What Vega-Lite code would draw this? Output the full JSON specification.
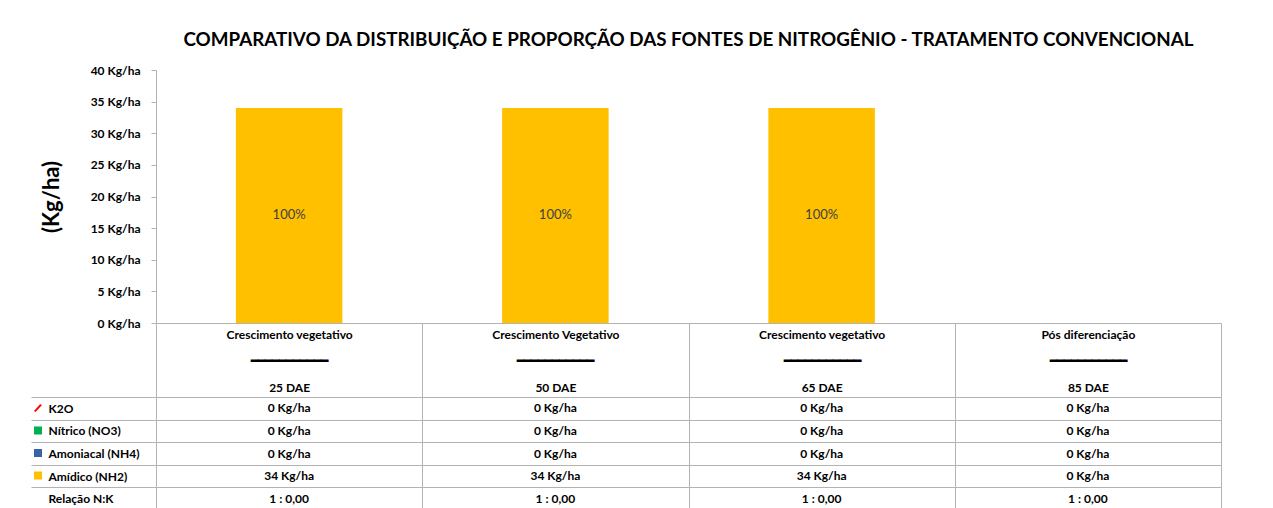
{
  "$schema": "https://vega.github.io/schema/vega-lite/v6.json",
  "padding": {"left": 30, "top": 31, "right": 10, "bottom": 0},
  "background": "white",
  "spacing": 74,
  "bounds": "flush",
  "config": {
    "view": {"stroke": null},
    "font": "Lato",
    "axis": {"labelFont": "Lato", "titleFont": "Lato"},
    "title": {"font": "Lato"}
  },
  "resolve": {"legend": {"color": "independent", "shape": "independent"}},
  "datasets": {
    "barras": [
      {"fase": "Crescimento vegetativo|25 DAE", "fonte": "Amídico (NH2)", "valor": 34, "pct": "100%"},
      {"fase": "Crescimento Vegetativo|50 DAE", "fonte": "Amídico (NH2)", "valor": 34, "pct": "100%"},
      {"fase": "Crescimento vegetativo|65 DAE", "fonte": "Amídico (NH2)", "valor": 34, "pct": "100%"},
      {"fase": "Pós diferenciação|85 DAE", "fonte": "Amídico (NH2)", "valor": 0, "pct": ""}
    ],
    "tabela": [
      {"fase": "Crescimento vegetativo|25 DAE", "linha": "K2O", "texto": "0 Kg/ha"},
      {"fase": "Crescimento Vegetativo|50 DAE", "linha": "K2O", "texto": "0 Kg/ha"},
      {"fase": "Crescimento vegetativo|65 DAE", "linha": "K2O", "texto": "0 Kg/ha"},
      {"fase": "Pós diferenciação|85 DAE", "linha": "K2O", "texto": "0 Kg/ha"},
      {"fase": "Crescimento vegetativo|25 DAE", "linha": "Nítrico (NO3)", "texto": "0 Kg/ha"},
      {"fase": "Crescimento Vegetativo|50 DAE", "linha": "Nítrico (NO3)", "texto": "0 Kg/ha"},
      {"fase": "Crescimento vegetativo|65 DAE", "linha": "Nítrico (NO3)", "texto": "0 Kg/ha"},
      {"fase": "Pós diferenciação|85 DAE", "linha": "Nítrico (NO3)", "texto": "0 Kg/ha"},
      {"fase": "Crescimento vegetativo|25 DAE", "linha": "Amoniacal (NH4)", "texto": "0 Kg/ha"},
      {"fase": "Crescimento Vegetativo|50 DAE", "linha": "Amoniacal (NH4)", "texto": "0 Kg/ha"},
      {"fase": "Crescimento vegetativo|65 DAE", "linha": "Amoniacal (NH4)", "texto": "0 Kg/ha"},
      {"fase": "Pós diferenciação|85 DAE", "linha": "Amoniacal (NH4)", "texto": "0 Kg/ha"},
      {"fase": "Crescimento vegetativo|25 DAE", "linha": "Amídico (NH2)", "texto": "34 Kg/ha"},
      {"fase": "Crescimento Vegetativo|50 DAE", "linha": "Amídico (NH2)", "texto": "34 Kg/ha"},
      {"fase": "Crescimento vegetativo|65 DAE", "linha": "Amídico (NH2)", "texto": "34 Kg/ha"},
      {"fase": "Pós diferenciação|85 DAE", "linha": "Amídico (NH2)", "texto": "0 Kg/ha"},
      {"fase": "Crescimento vegetativo|25 DAE", "linha": "Relação N:K", "texto": "1 : 0,00"},
      {"fase": "Crescimento Vegetativo|50 DAE", "linha": "Relação N:K", "texto": "1 : 0,00"},
      {"fase": "Crescimento vegetativo|65 DAE", "linha": "Relação N:K", "texto": "1 : 0,00"},
      {"fase": "Pós diferenciação|85 DAE", "linha": "Relação N:K", "texto": "1 : 0,00"}
    ]
  },
  "vconcat": [
    {
      "width": 1065,
      "height": 253,
      "title": {
        "text": "COMPARATIVO DA DISTRIBUIÇÃO E PROPORÇÃO DAS FONTES DE NITROGÊNIO - TRATAMENTO CONVENCIONAL",
        "fontSize": 18.8,
        "fontWeight": "bold",
        "anchor": "middle",
        "frame": "group",
        "offset": 14,
        "color": "#000000"
      },
      "data": {"name": "barras"},
      "encoding": {
        "x": {
          "field": "fase",
          "type": "nominal",
          "sort": null,
          "scale": {
            "domain": [
              "Crescimento vegetativo|25 DAE",
              "Crescimento Vegetativo|50 DAE",
              "Crescimento vegetativo|65 DAE",
              "Pós diferenciação|85 DAE"
            ],
            "paddingInner": 0,
            "paddingOuter": 0
          },
          "axis": {
            "title": null,
            "labelExpr": "datum.value ? [split(datum.value, '|')[0], '━━━━━━━━━━━', split(datum.value, '|')[1]] : ''",
            "labelAngle": 0,
            "labelBaseline": "top",
            "labelPadding": -68,
            "labelFontSize": 12,
            "labelFontWeight": "bold",
            "labelColor": "#000000",
            "labelLineHeight": 26.5,
            "labelFlush": false,
            "labelOverlap": false,
            "labelLimit": 260,
            "tickBand": "extent",
            "tickSize": 74,
            "tickColor": "#b3b3b3",
            "domainColor": "#b3b3b3"
          }
        }
      },
      "layer": [
        {
          "mark": {"type": "bar", "color": "#FFC000", "width": {"band": 0.4}},
          "encoding": {
            "y": {
              "field": "valor",
              "type": "quantitative",
              "scale": {"domain": [0, 40], "nice": false},
              "axis": {
                "title": "(Kg/ha)",
                "titleFontSize": 22,
                "titleFontWeight": "bold",
                "titleColor": "#000000",
                "titlePadding": 27,
                "values": [0, 5, 10, 15, 20, 25, 30, 35, 40],
                "tickCount": 9,
                "labelExpr": "datum.value + ' Kg/ha'",
                "labelOverlap": false,
                "labelFontSize": 12,
                "labelFontWeight": "bold",
                "labelColor": "#000000",
                "labelPadding": 11,
                "tickSize": 5,
                "tickColor": "#b3b3b3",
                "domainColor": "#b3b3b3",
                "grid": false
              }
            }
          }
        },
        {
          "transform": [
            {"filter": "datum.valor > 0"},
            {"calculate": "datum.valor / 2", "as": "meio"}
          ],
          "mark": {"type": "text", "fontSize": 13, "color": "#404040"},
          "encoding": {
            "y": {
              "field": "meio",
              "type": "quantitative",
              "axis": {
                "title": "(Kg/ha)",
                "titleFontSize": 22,
                "titleFontWeight": "bold",
                "titleColor": "#000000",
                "titlePadding": 27,
                "values": [0, 5, 10, 15, 20, 25, 30, 35, 40],
                "tickCount": 9,
                "labelExpr": "datum.value + ' Kg/ha'",
                "labelOverlap": false,
                "labelFontSize": 12,
                "labelFontWeight": "bold",
                "labelColor": "#000000",
                "labelPadding": 11,
                "tickSize": 5,
                "tickColor": "#b3b3b3",
                "domainColor": "#b3b3b3",
                "grid": false
              }
            },
            "text": {"field": "pct"}
          }
        }
      ]
    },
    {
      "width": 1065,
      "height": 113,
      "data": {"name": "tabela"},
      "layer": [
        {
          "mark": {"type": "text", "fontSize": 12, "fontWeight": "bold", "color": "#000000"},
          "encoding": {
            "x": {
              "field": "fase",
              "type": "nominal",
              "sort": null,
              "scale": {
                "domain": [
                  "Crescimento vegetativo|25 DAE",
                  "Crescimento Vegetativo|50 DAE",
                  "Crescimento vegetativo|65 DAE",
                  "Pós diferenciação|85 DAE"
                ],
                "paddingInner": 0,
                "paddingOuter": 0
              },
              "axis": {
                "title": null,
                "labels": false,
                "ticks": false,
                "domain": false,
                "grid": true,
                "tickBand": "extent",
                "gridColor": "#b3b3b3"
              }
            },
            "y": {
              "field": "linha",
              "type": "nominal",
              "sort": null,
              "scale": {
                "domain": ["K2O", "Nítrico (NO3)", "Amoniacal (NH4)", "Amídico (NH2)", "Relação N:K"],
                "paddingInner": 0,
                "paddingOuter": 0
              },
              "axis": {
                "title": null,
                "labelAlign": "left",
                "labelPadding": -17,
                "tickSize": 125,
                "tickBand": "extent",
                "tickColor": "#b3b3b3",
                "grid": true,
                "gridColor": "#b3b3b3",
                "domainColor": "#b3b3b3",
                "labelFontSize": 12,
                "labelFontWeight": "bold",
                "labelColor": "#000000"
              }
            },
            "text": {"field": "texto"}
          }
        },
        {
          "transform": [
            {"filter": "datum.linha != 'Relação N:K' && indexof(datum.fase, '25 DAE') >= 0"}
          ],
          "mark": {"type": "point", "opacity": 0, "filled": true},
          "encoding": {
            "x": {"field": "fase", "type": "nominal", "sort": null},
            "y": {"field": "linha", "type": "nominal", "sort": null},
            "color": {
              "field": "linha",
              "type": "nominal",
              "scale": {
                "domain": ["K2O", "Nítrico (NO3)", "Amoniacal (NH4)", "Amídico (NH2)"],
                "range": ["#FF0000", "#00B050", "#3764A8", "#FFC000"]
              },
              "legend": {
                "orient": "none",
                "legendX": -122,
                "legendY": 7,
                "title": null,
                "labelExpr": "''",
                "labelFontSize": 8,
                "symbolSize": 64,
                "symbolOpacity": 1,
                "symbolStrokeWidth": 0,
                "rowPadding": 14.5,
                "padding": 0
              }
            },
            "shape": {
              "field": "linha",
              "type": "nominal",
              "scale": {
                "domain": ["K2O", "Nítrico (NO3)", "Amoniacal (NH4)", "Amídico (NH2)"],
                "range": ["M-1,0.75L0.55,-1L0.95,-0.7L-0.6,1Z", "square", "square", "square"]
              },
              "legend": {
                "orient": "none",
                "legendX": -122,
                "legendY": 7,
                "title": null,
                "labelExpr": "''",
                "labelFontSize": 8,
                "symbolSize": 64,
                "symbolOpacity": 1,
                "symbolStrokeWidth": 0,
                "rowPadding": 14.5,
                "padding": 0
              }
            }
          }
        }
      ]
    }
  ]
}
